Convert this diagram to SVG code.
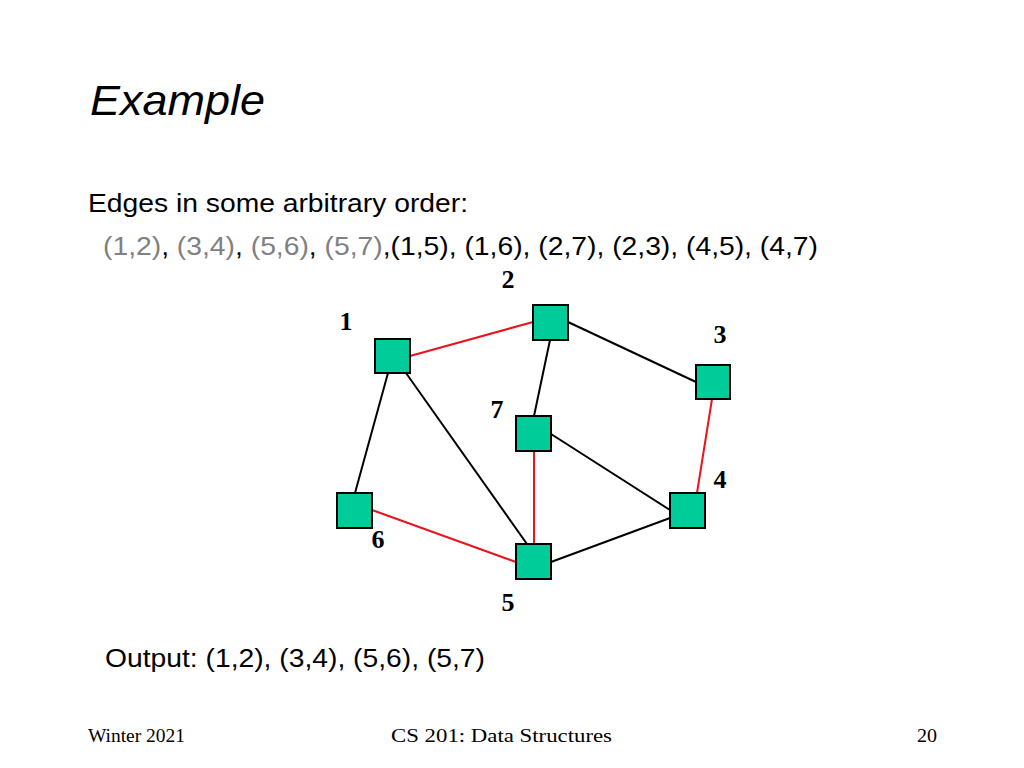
<svg xmlns="http://www.w3.org/2000/svg" width="1024" height="768" viewBox="0 0 1024 768">
<style>
.sans{font-family:"Liberation Sans",Arial,sans-serif;fill:#000}
.serif{font-family:"Liberation Serif","Times New Roman",serif;fill:#000}
.lbl{font-family:"Liberation Serif","Times New Roman",serif;font-weight:bold;font-size:26px;fill:#000;text-anchor:middle}
.node{fill:#00CC99;stroke:#000;stroke-width:2}
.g{fill:#808080}
.e{stroke:#000;stroke-width:2;fill:none}
.r{stroke:#E8141E;stroke-width:2;fill:none}
</style>
<rect width="1024" height="768" fill="#fff"/>
<text class="sans" x="90" y="115" font-size="43" font-style="italic" textLength="175" lengthAdjust="spacingAndGlyphs">Example</text>
<text class="sans" x="88" y="212" font-size="26" textLength="380" lengthAdjust="spacingAndGlyphs">Edges in some arbitrary order:</text>
<text class="sans" x="103" y="255" font-size="26" textLength="715" lengthAdjust="spacingAndGlyphs"><tspan class="g">(1,2)</tspan>, <tspan class="g">(3,4)</tspan>, <tspan class="g">(5,6)</tspan>, <tspan class="g">(5,7)</tspan>,(1,5), (1,6), (2,7), (2,3), (4,5), (4,7)</text>
<g id="connectors">
<line class="r" x1="410" y1="356" x2="533" y2="322"/>
<line class="e" x1="568" y1="322" x2="696" y2="382"/>
<line class="e" x1="550" y1="340" x2="534" y2="416"/>
<line class="e" x1="388" y1="373" x2="355" y2="493"/>
<line class="e" x1="406" y1="373" x2="527" y2="544"/>
<line class="r" x1="534" y1="451" x2="534" y2="544"/>
<line class="e" x1="551" y1="434" x2="670" y2="510"/>
<line class="r" x1="712" y1="399" x2="697" y2="493"/>
<line class="r" x1="372" y1="510" x2="516" y2="562"/>
<line class="e" x1="551" y1="562" x2="670" y2="518"/>
</g>
<g id="node1"><rect class="node" x="375" y="339" width="35" height="34"/><text class="lbl" x="346" y="330">1</text></g>
<g id="node2"><rect class="node" x="533" y="305" width="35" height="35"/><text class="lbl" x="508" y="288">2</text></g>
<g id="node3"><rect class="node" x="696" y="365" width="34" height="34"/><text class="lbl" x="720" y="343">3</text></g>
<g id="node4"><rect class="node" x="670" y="493" width="35" height="35"/><text class="lbl" x="720" y="488">4</text></g>
<g id="node5"><rect class="node" x="516" y="544" width="35" height="35"/><text class="lbl" x="508" y="611">5</text></g>
<g id="node6"><rect class="node" x="337" y="493" width="35" height="35"/><text class="lbl" x="378" y="548">6</text></g>
<g id="node7"><rect class="node" x="516" y="416" width="35" height="35"/><text class="lbl" x="497" y="418">7</text></g>
<text class="sans" x="105" y="667" font-size="26" textLength="380" lengthAdjust="spacingAndGlyphs">Output: (1,2), (3,4), (5,6), (5,7)</text>
<text class="serif" x="88" y="742" font-size="18" textLength="97" lengthAdjust="spacingAndGlyphs">Winter 2021</text>
<text class="serif" x="391" y="742" font-size="18" textLength="221" lengthAdjust="spacingAndGlyphs">CS 201: Data Structures</text>
<text class="serif" x="917" y="742" font-size="18" textLength="20" lengthAdjust="spacingAndGlyphs">20</text>
</svg>
